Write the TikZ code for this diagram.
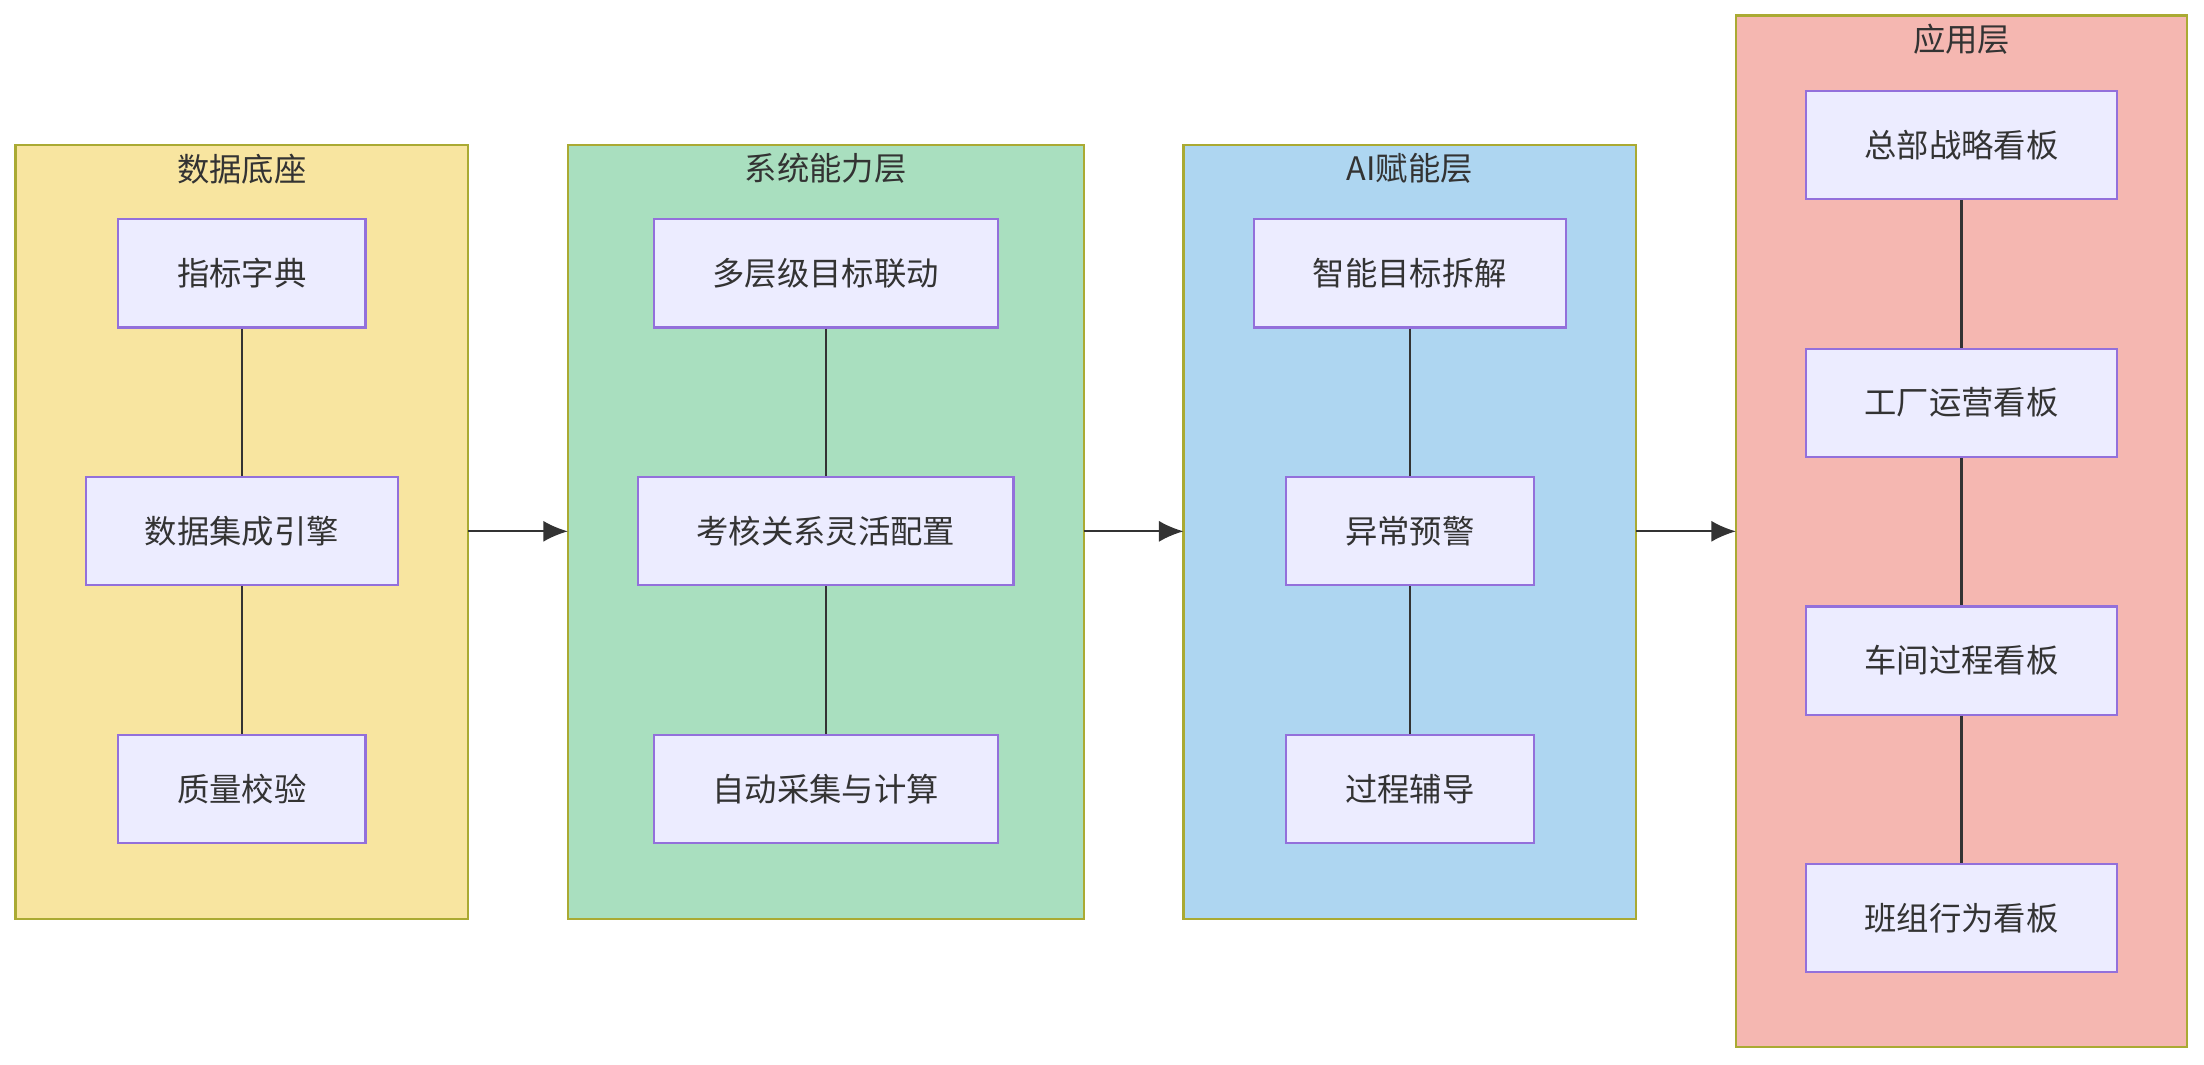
\documentclass[tikz,border=0pt]{standalone}
\usepackage{fontspec}
\setmainfont{Noto Sans CJK SC}
\usepackage{xcolor}
\usetikzlibrary{arrows.meta, positioning, calc}

\definecolor{nodefill}{HTML}{ECECFF}
\definecolor{nodeline}{HTML}{9370DB}
\definecolor{panelline}{HTML}{AAAA33}
\definecolor{edgecol}{HTML}{333333}
\definecolor{layerA}{HTML}{F8E5A0}
\definecolor{layerB}{HTML}{A9DFBF}
\definecolor{layerC}{HTML}{AED6F1}
\definecolor{layerD}{HTML}{F5B7B1}

\tikzset{
  box/.style={draw=nodeline, fill=nodefill, line width=0.6pt, minimum height=1.082cm, inner sep=0pt, text=edgecol},
  panel/.style={draw=panelline, line width=0.6pt},
  link/.style={draw=edgecol, line width=0.6pt},
  flow/.style={draw=edgecol, line width=0.6pt, -{Latex[length=7pt,width=6pt]}}
}

\begin{document}
\begin{tikzpicture}[x=0.014056cm, y=-0.014056cm, font=\fontsize{9.2}{11}\selectfont]
\useasboundingbox (0,0) rectangle (1568,757);

% Layers
\draw[panel, fill=layerA] (11,103) rectangle (333,654);
\node[text=edgecol] (tA) at (172,120) {数据底座};
\draw[panel, fill=layerB] (404,103) rectangle (771,654);
\node[text=edgecol] (tB) at (587.5,120) {系统能力层};
\draw[panel, fill=layerC] (842,103) rectangle (1164,654);
\node[text=edgecol] (tC) at (1003,120) {AI赋能层};
\draw[panel, fill=layerD] (1235,11) rectangle (1556,745);
\node[text=edgecol] (tD) at (1395.5,28) {应用层};

% Anchors on layer borders for the flow arrows
\coordinate (aR) at (333,378);
\coordinate (bL) at (404,378);
\coordinate (bR) at (771,378);
\coordinate (cL) at (842,378);
\coordinate (cR) at (1164,378);
\coordinate (dL) at (1235,378);

% Data base
\node[box, minimum width=2.474cm] (dict) at (172,194.5) {指标字典};
\node[box, minimum width=3.12cm] (integ) at (172,378) {数据集成引擎};
\node[box, minimum width=2.474cm] (qual) at (172,561.5) {质量校验};

% System capability
\node[box, minimum width=3.444cm] (multi) at (587.5,194.5) {多层级目标联动};
\node[box, minimum width=3.753cm] (assess) at (587.5,378) {考核关系灵活配置};
\node[box, minimum width=3.444cm] (auto) at (587.5,561.5) {自动采集与计算};

% AI
\node[box, minimum width=3.12cm] (split) at (1003,194.5) {智能目标拆解};
\node[box, minimum width=2.474cm] (warn) at (1003,378) {异常预警};
\node[box, minimum width=2.474cm] (coach) at (1003,561.5) {过程辅导};

% Application
\node[box, minimum width=3.106cm] (hq) at (1395.5,103) {总部战略看板};
\node[box, minimum width=3.106cm] (plant) at (1395.5,286.5) {工厂运营看板};
\node[box, minimum width=3.106cm] (shop) at (1395.5,470) {车间过程看板};
\node[box, minimum width=3.106cm] (team) at (1395.5,653) {班组行为看板};

% Links inside layers
\draw[link] (dict) -- (integ);
\draw[link] (integ) -- (qual);
\draw[link] (multi) -- (assess);
\draw[link] (assess) -- (auto);
\draw[link] (split) -- (warn);
\draw[link] (warn) -- (coach);
\draw[link] (hq) -- (plant);
\draw[link] (plant) -- (shop);
\draw[link] (shop) -- (team);

% Flow between layers
\draw[flow] (aR) -- (bL);
\draw[flow] (bR) -- (cL);
\draw[flow] (cR) -- (dL);

\end{tikzpicture}
\end{document}
